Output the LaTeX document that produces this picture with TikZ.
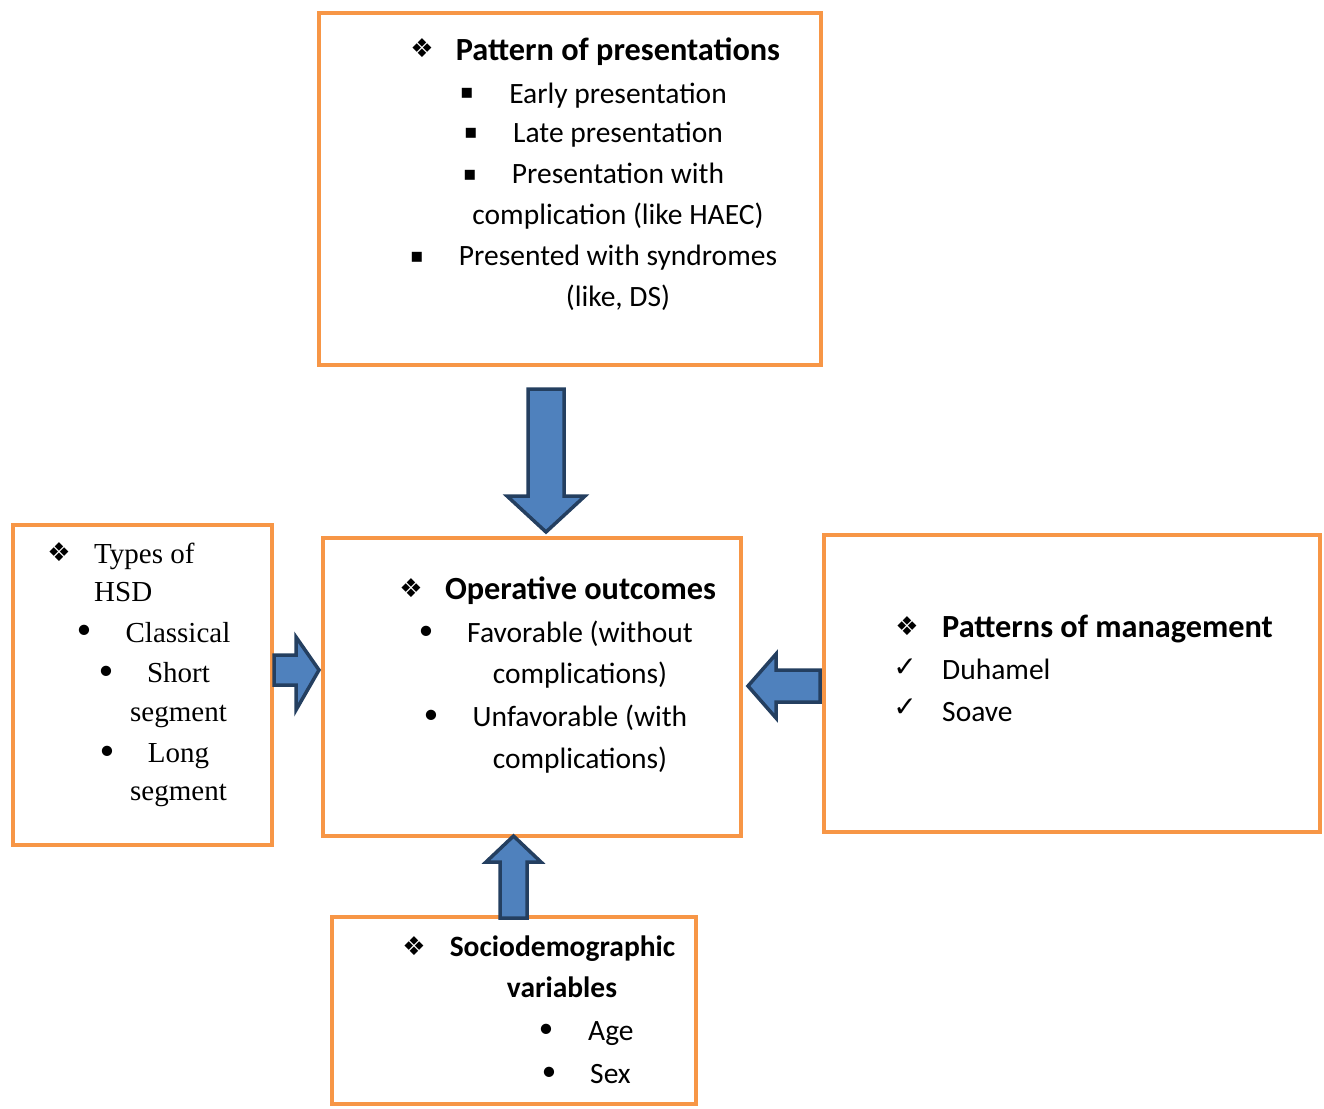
\documentclass[tikz,border=0pt]{standalone}
\usepackage{fontspec}
\setmainfont{Carlito}
\newfontfamily\timesfont{Liberation Serif}
\newfontfamily\symfont{DejaVu Sans}
\usetikzlibrary{calc}

\definecolor{boxorange}{HTML}{F79646}
\definecolor{arrowblue}{HTML}{4F81BD}
\definecolor{arrowedge}{HTML}{243F60}

\tikzset{
  obox/.style={draw=boxorange, line width=3.5pt, rectangle, inner sep=0pt},
  txt/.style={anchor=base, inner sep=0pt, font=\fontsize{29.5}{35}\selectfont},
  hdr/.style={anchor=base, inner sep=0pt, font=\fontsize{32.3}{38}\selectfont\bfseries},
  shdr/.style={anchor=base, inner sep=0pt, font=\fontsize{29.5}{35}\selectfont\bfseries},
  tms/.style={anchor=base, inner sep=0pt, font=\timesfont\fontsize{29}{35}\selectfont},
  sym/.style={inner sep=0pt, font=\symfont\fontsize{26}{30}\selectfont},
  sqr/.style={inner sep=0pt, font=\symfont\fontsize{20}{24}\selectfont},
  chk/.style={inner sep=0pt, font=\symfont\fontsize{28}{32}\selectfont},
  dot/.style={inner sep=0pt, font=\fontsize{29}{35}\selectfont},
  blk/.style={fill=arrowblue, draw=arrowedge, line width=3.5pt, line join=miter},
}

\begin{document}
\begin{tikzpicture}[x=1pt,y=-1pt]
\useasboundingbox (0,0) rectangle (1324,1108);

% boxes
\node[obox, minimum width=502pt, minimum height=352pt] (pres) at (570,189) {};
\node[obox, minimum width=259pt, minimum height=320pt] (types) at (142.5,685) {};
\node[obox, minimum width=418pt, minimum height=298pt] (outc) at (532,687) {};
\node[obox, minimum width=496pt, minimum height=297pt] (mgmt) at (1072,683.5) {};
\node[obox, minimum width=364pt, minimum height=187pt] (socio) at (514,1010.5) {};

% pattern of presentations
\node[sym] (pres-d) at (422,48) {❖};
\node[hdr] (pres-h) at (618,60) {Pattern of presentations};
\node[sqr] (pres-b1) at (467,93) {▪};
\node[txt] (pres-1) at (618,103) {Early presentation};
\node[sqr] (pres-b2) at (471,133) {▪};
\node[txt] (pres-2) at (618,142) {Late presentation};
\node[sqr] (pres-b3) at (470,175) {▪};
\node[txt] (pres-3) at (618,183) {Presentation with};
\node[txt] (pres-3b) at (618,224) {complication (like HAEC)};
\node[sqr] (pres-b4) at (417,257) {▪};
\node[txt] (pres-4) at (618,265) {Presented with syndromes};
\node[txt] (pres-4b) at (618,306) {(like, DS)};

% operative outcomes
\node[sym] (outc-d) at (411,588) {❖};
\node[hdr] (outc-h) at (580.5,599) {Operative outcomes};
\node[dot] (outc-b1) at (426,633) {•};
\node[txt] (outc-1) at (580,642) {Favorable (without};
\node[txt] (outc-1b) at (580,683) {complications)};
\node[dot] (outc-b2) at (431,717) {•};
\node[txt] (outc-2) at (580,726) {Unfavorable (with};
\node[txt] (outc-2b) at (580,768) {complications)};

% patterns of management
\node[sym] (mgmt-d) at (907,626) {❖};
\node[hdr, anchor=base west] (mgmt-h) at (942,637) {Patterns of management};
\node[chk] (mgmt-c1) at (905,668) {✓};
\node[txt, anchor=base west] (mgmt-1) at (942,679) {Duhamel};
\node[chk] (mgmt-c2) at (905,708) {✓};
\node[txt, anchor=base west] (mgmt-2) at (942,721) {Soave};

% sociodemographic variables
\node[sym] (socio-d) at (414,946) {❖};
\node[shdr] (socio-h) at (562.5,956) {Sociodemographic};
\node[shdr] (socio-hb) at (562,997) {variables};
\node[dot] (socio-b1) at (546,1031) {•};
\node[txt, anchor=base west] (socio-1) at (588,1040) {Age};
\node[dot] (socio-b2) at (549,1074) {•};
\node[txt, anchor=base west] (socio-2) at (590,1083) {Sex};

% types of HSD
\node[sym] (types-d) at (59,552) {❖};
\node[tms, anchor=base west] (types-h) at (94,563) {Types of};
\node[tms, anchor=base west] (types-hb) at (94,601) {HSD};
\node[dot] (types-b1) at (84,632) {•};
\node[tms] (types-1) at (178,642) {Classical};
\node[dot] (types-b2) at (106,673) {•};
\node[tms] (types-2) at (178.5,682) {Short};
\node[tms] (types-2b) at (178.5,721) {segment};
\node[dot] (types-b3) at (107,753) {•};
\node[tms] (types-3) at (178.5,762) {Long};
\node[tms] (types-3b) at (178.5,800) {segment};

% block arrows into the outcomes box
\draw[blk] (528,389) -- (564,389) -- (564,496) -- (585,496) -- (546,532) -- (507,496) -- (528,496) -- cycle;
\draw[blk] (274,655) -- (296,655) -- (296,637) -- (319,670) -- (296,710) -- (296,685) -- (274,685) -- cycle;
\draw[blk] (820,670) -- (776,670) -- (776,654) -- (748,686) -- (776,718) -- (776,702) -- (820,702) -- cycle;
\draw[blk] (500,918) -- (527,918) -- (527,862) -- (541,862) -- (513.5,836) -- (486,862) -- (500,862) -- cycle;
\end{tikzpicture}
\end{document}
